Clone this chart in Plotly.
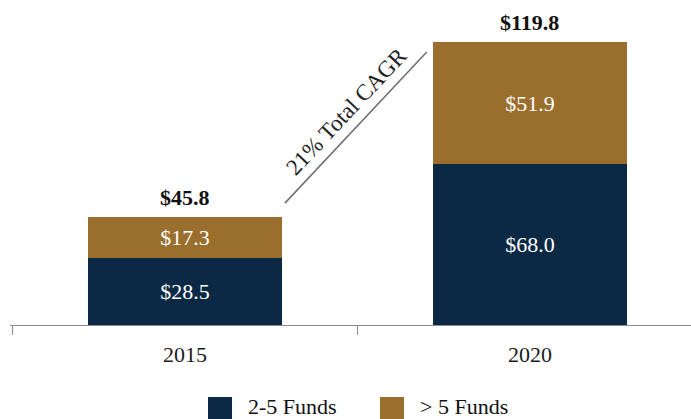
import plotly.graph_objects as go

# ---- data ----
years = ["2015", "2020"]
funds_2_5 = [28.5, 68.0]
funds_gt5 = [17.3, 51.9]
totals = [45.8, 119.8]
series_names = ["2-5 Funds", "> 5 Funds"]
series_colors = ["#0b2944", "#9a6f2e"]
cagr_label = "21% Total CAGR"

FONT = "Liberation Serif"
W, H = 691, 419
ML, MR, MT, MB = 10, 0, 0, 94
PW, PH = W - ML - MR, H - MT - MB
PX_PER_UNIT = 2.362


def pxx(x):
    return (x - ML) / PW


def pxy(y):
    return (H - MB - y) / PH


fig = go.Figure()
for name, vals, color in zip(series_names, [funds_2_5, funds_gt5], series_colors):
    fig.add_trace(go.Bar(
        x=years, y=vals, name=name,
        marker=dict(color=color, line=dict(width=0)),
        text=[f"${v:.1f}" for v in vals],
        textposition="inside", insidetextanchor="middle",
        textfont=dict(family=FONT, size=22, color="#ffffff"),
        width=0.562, showlegend=False, hoverinfo="skip",
    ))

annotations = []
for i, t in enumerate(totals):
    annotations.append(dict(
        x=i, y=t, xref="x", yref="y", text=f"<b>${t:.1f}</b>",
        showarrow=False, yanchor="bottom", yshift=5,
        font=dict(family=FONT, size=22, color="#111111"),
    ))

# CAGR annotation
annotations.append(dict(
    x=0.468, y=90.5, xref="x", yref="y", text=cagr_label, textangle=-46.8,
    showarrow=False, font=dict(family=FONT, size=23, color="#222222"),
))

shapes = [dict(
    type="line", xref="x", yref="y", x0=0.29, y0=51.6, x1=0.701, y1=115.6,
    line=dict(color="#6e6e6e", width=1.5),
)]

# manual legend
leg_x = [208, 380]
for i, (name, color) in enumerate(zip(series_names, series_colors)):
    shapes.append(dict(
        type="rect", xref="paper", yref="paper",
        x0=pxx(leg_x[i]), x1=pxx(leg_x[i] + 24), y0=pxy(422), y1=pxy(397),
        fillcolor=color, line=dict(width=0),
    ))
    annotations.append(dict(
        x=pxx(leg_x[i] + 38), y=pxy(406), xref="paper", yref="paper",
        xanchor="left", yanchor="middle", text=name, showarrow=False,
        font=dict(family=FONT, size=22, color="#111111"),
    ))

fig.update_layout(
    width=W, height=H, autosize=False,
    margin=dict(l=ML, r=MR, t=MT, b=MB, pad=0),
    paper_bgcolor="white", plot_bgcolor="white",
    barmode="stack", bargap=0,
    annotations=annotations, shapes=shapes,
    showlegend=False,
    xaxis=dict(
        type="category", range=[-0.507, 1.467],
        showline=True, linecolor="#8c8c8c", linewidth=1,
        ticks="outside", tickson="boundaries", ticklen=9, tickcolor="#8c8c8c",
        tickfont=dict(family=FONT, size=22, color="#1a1a1a"),
        ticklabelstandoff=10,
        showgrid=False, zeroline=False,
    ),
    yaxis=dict(visible=False, range=[0, PH / PX_PER_UNIT], showgrid=False, zeroline=False),
    uniformtext=dict(minsize=22, mode="show"),
)

fig.write_html(
    "out.html",
    config={"displayModeBar": False, "staticPlot": True},
    post_script="document.body.style.margin='0';document.body.style.overflow='hidden';",
)
